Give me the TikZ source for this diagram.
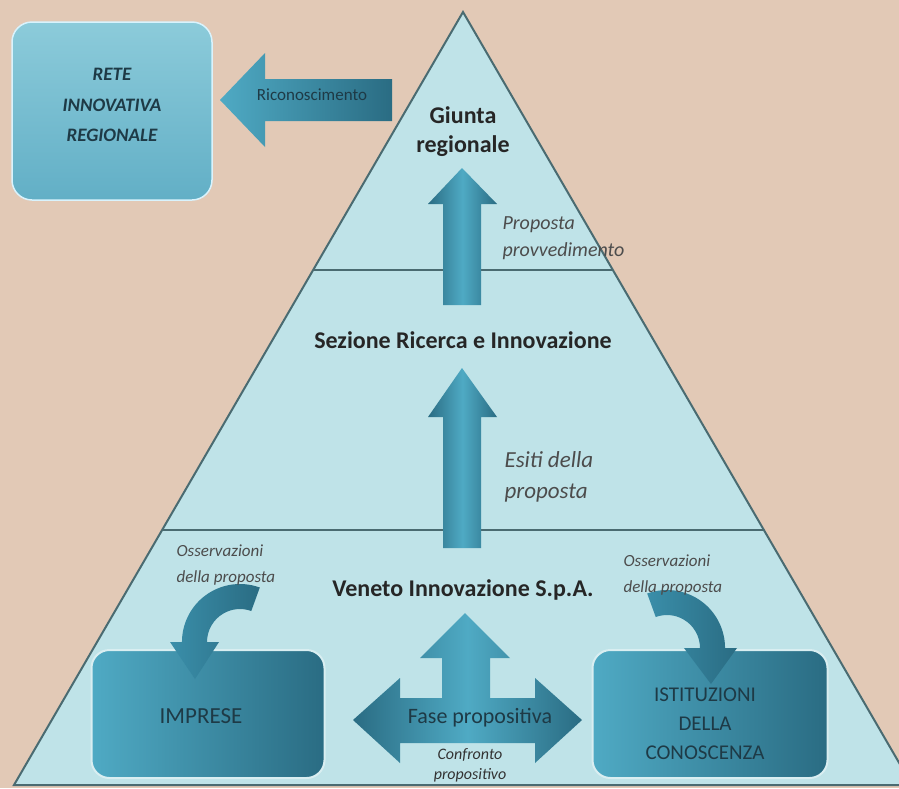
\documentclass[tikz,border=0pt]{standalone}
\usepackage{fontspec}
\setmainfont{Carlito}
\usetikzlibrary{positioning}

\definecolor{bgpeach}{HTML}{E2C9B6}
\definecolor{pyrfill}{HTML}{BFE3E8}
\definecolor{pyrline}{HTML}{4A6B71}
\definecolor{tealdark}{HTML}{2A6C83}
\definecolor{tealmid}{HTML}{3A8EA9}
\definecolor{teallight}{HTML}{4FAAC4}
\definecolor{boxlight}{HTML}{8CCBDA}
\definecolor{boxmid}{HTML}{62AFC6}
\definecolor{boxtext}{HTML}{1E3A46}

\begin{document}
\begin{tikzpicture}[
    x=1pt, y=-1pt,
    level/.style={font=\fontsize{24}{29}\selectfont\bfseries, text=black!85, align=center},
    note/.style={font=\fontsize{20}{27}\selectfont\itshape, text=black!70, align=left},
    bignote/.style={font=\fontsize{23}{31}\selectfont\itshape, text=black!70, align=left},
    smallnote/.style={font=\fontsize{17}{26}\selectfont\itshape, text=black!70, align=left},
    darkbox/.style={rectangle, rounded corners=18pt, draw=pyrfill!60!white, line width=2pt, left color=teallight, right color=tealdark},
    lightbox/.style={rectangle, rounded corners=20pt, draw=white!85!cyan, line width=1.5pt, top color=boxlight, bottom color=boxmid},
    boxlabel/.style={text=boxtext, align=center},
    blockarrow/.style={left color=teallight, right color=tealdark},
    uparrow/.style={left color=tealdark, right color=tealdark, middle color=teallight},
    bendarrow/.style={left color=tealmid, right color=tealdark}
]

% Background
\fill[bgpeach] (0,0) rectangle (899,788);
\useasboundingbox (0,0) rectangle (899,788);
\clip (0,0) rectangle (899,788);

% Pyramid
\filldraw[fill=pyrfill, draw=pyrline, line width=2pt] (463,12) -- (912,785) -- (14,785) -- cycle;
\draw[pyrline, line width=2.5pt] (313,270) -- (613,270);
\draw[pyrline, line width=2.5pt] (162,530) -- (764,530);

% Regional network (top left)
\node[lightbox, minimum width=200pt, minimum height=178pt] (rete) at (112,111) {};
\node[boxlabel, font=\fontsize{19}{30.5}\selectfont\bfseries\itshape] (retetxt) at (112,105) {RETE\\INNOVATIVA\\REGIONALE};

% Recognition arrow
\path[blockarrow] (220,100) -- (265,53) -- (265,79) -- (392,79) -- (392,121) -- (265,121) -- (265,147) -- cycle;
\node[boxlabel, font=\fontsize{17}{20}\selectfont] (ricon) at (312,95) {Riconoscimento};

% Up arrows
\path[uparrow] (462,168) -- (497,204) -- (481,204) -- (481,305) -- (443,305) -- (443,204) -- (428,204) -- cycle;
\path[uparrow] (462,368) -- (497,417) -- (481,417) -- (481,548) -- (443,548) -- (443,417) -- (428,417) -- cycle;

% Levels
\node[level] (giunta) at (463,132) {Giunta\\regionale};
\node[level] (sezione) at (463,340) {Sezione Ricerca e Innovazione};
\node[level] (veneto) at (463,590) {Veneto Innovazione S.p.A.};

\node[note, anchor=west] (provv) at (499,238) {Proposta\\provvedimento};
\node[bignote, anchor=west] (esiti) at (501,477) {Esiti della\\proposta};

% Bottom boxes
\node[darkbox, minimum width=233pt, minimum height=128pt] (imprese) at (208,714) {};
\node[boxlabel, font=\fontsize{23}{26}\selectfont] (impresetxt) at (201,716) {IMPRESE};
\node[darkbox, minimum width=235pt, minimum height=128pt] (istit) at (710,714) {};
\node[boxlabel, font=\fontsize{21}{29}\selectfont] (istittxt) at (705,724) {ISTITUZIONI\\DELLA\\CONOSCENZA};

% Three-way arrow
\path[uparrow] (465,613) -- (510,658) -- (490,658) -- (490,698) -- (535,698) -- (535,678) -- (582,720) -- (535,763) -- (535,743)
  -- (400,743) -- (400,763) -- (353,720) -- (400,678) -- (400,698) -- (442,698) -- (442,658) -- (420,658) -- cycle;
\node[boxlabel, font=\fontsize{22}{26}\selectfont] (fase) at (480,718) {Fase propositiva};
\node[smallnote, font=\fontsize{16}{20}\selectfont\itshape, text=black!80, align=center] (confronto) at (470,765) {Confronto\\propositivo};

% Bent arrows
\path[bendarrow] (259.8,587.5) arc[start angle=-70, end angle=-180, radius=58] -- (170,642) -- (195,679) -- (219,642) -- (207,642)
  arc[start angle=180, end angle=290, radius=33] -- cycle;
\path[bendarrow] (647.2,593.5) arc[start angle=-110, end angle=0, radius=58] -- (737,648) -- (711,684) -- (684,648) -- (700,648)
  arc[start angle=0, end angle=-110, radius=33] -- cycle;

% Observations
\node[smallnote, anchor=west] (oss1) at (173,565) {Osservazioni\\della proposta};
\node[smallnote, anchor=west] (oss2) at (620,575) {Osservazioni\\della proposta};

\end{tikzpicture}
\end{document}
